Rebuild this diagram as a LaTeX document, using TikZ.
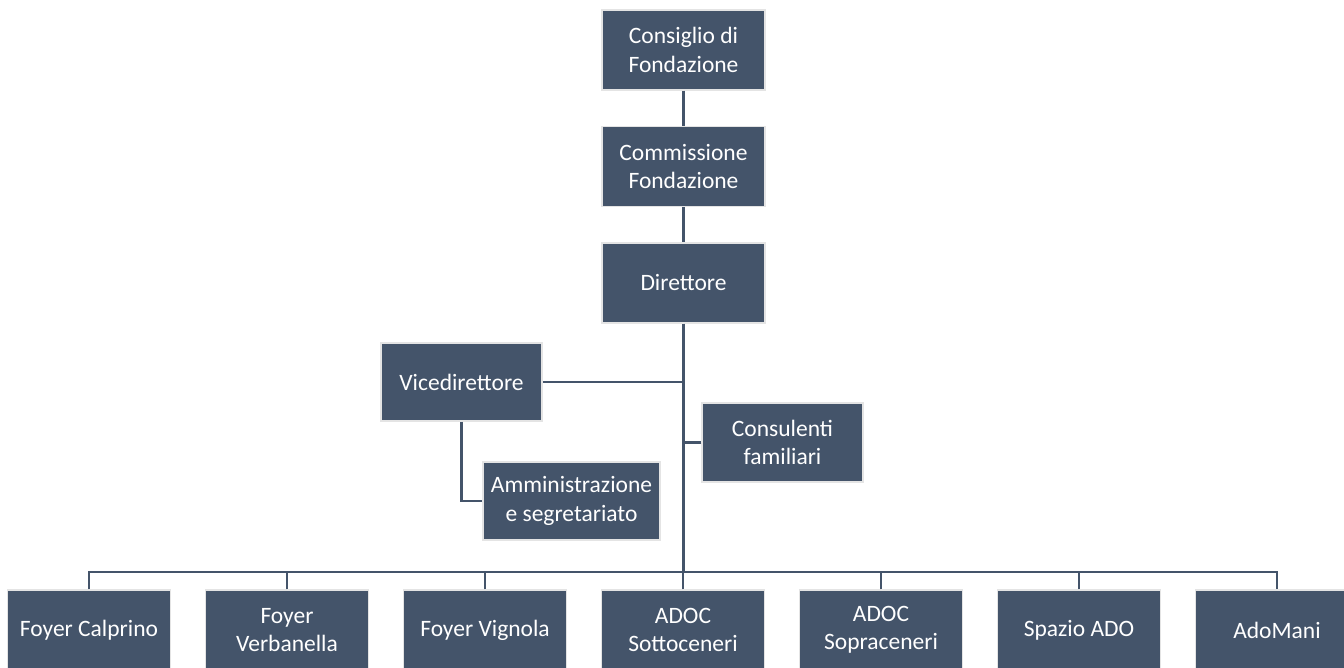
\documentclass[tikz,border=0pt]{standalone}
\usepackage{fontspec}
\setmainfont{Carlito}
\definecolor{boxfill}{HTML}{44546A}
\definecolor{boxborder}{HTML}{E4E4E4}
\tikzset{
  orgbox/.style={draw=boxborder, line width=1.5pt, fill=boxfill, text=white,
    minimum width=163pt, minimum height=80pt, align=center, inner sep=0pt,
    font=\fontsize{23.5}{28.5}\selectfont},
  conn/.style={draw=boxfill, line width=2.2pt}
}
\begin{document}
\begin{tikzpicture}[x=1pt,y=-1pt]
\useasboundingbox (0,0) rectangle (1344,668);
\clip (0,0) rectangle (1344,668);
\node[orgbox] (cons) at (683.5,50) {Consiglio di\\Fondazione};
\node[orgbox] (comm) at (683.5,166.5) {Commissione\\Fondazione};
\node[orgbox] (dir) at (683.5,283) {Direttore};
\node[orgbox, minimum width=161pt, minimum height=78pt] (vice) at (461.5,382) {Vicedirettore};
\node[orgbox, minimum width=177pt, minimum height=78pt] (amm) at (571.5,501) {Amministrazione\\e segretariato};
\node[orgbox, minimum width=161pt, minimum height=79pt] (consu) at (782.5,442.5) {Consulenti\\familiari};
\node[orgbox] (b1) at (89,630) {Foyer Calprino};
\node[orgbox] (b2) at (287,630) {Foyer\\Verbanella};
\node[orgbox] (b3) at (485,630) {Foyer Vignola};
\node[orgbox] (b4) at (683,630) {ADOC\\Sottoceneri};
\node[orgbox] (b5) at (881,630) {ADOC\\Sopraceneri};
\node[orgbox] (b6) at (1079,630) {Spazio ADO};
\node[orgbox] (b7) at (1277,630) {AdoMani};
\coordinate (bus) at (683,572);
\draw[conn] (cons.south) -- (comm.north);
\draw[conn] (comm.south) -- (dir.south |- comm.south) -- (dir.north);
\draw[conn] (dir.south) -- (dir.south |- bus);
\draw[conn] (vice.east) -- (vice.east -| dir.south);
\draw[conn] (consu.west) -- (consu.west -| dir.south);
\draw[conn] (vice.south) -- (vice.south |- amm.west) -- (amm.west);
\draw[conn] (b1.north) -- (b1.north |- bus) -- (b7.north |- bus) -- (b7.north);
\foreach \b in {b2,b3,b4,b5,b6} \draw[conn] (\b.north) -- (\b.north |- bus);
\end{tikzpicture}
\end{document}
